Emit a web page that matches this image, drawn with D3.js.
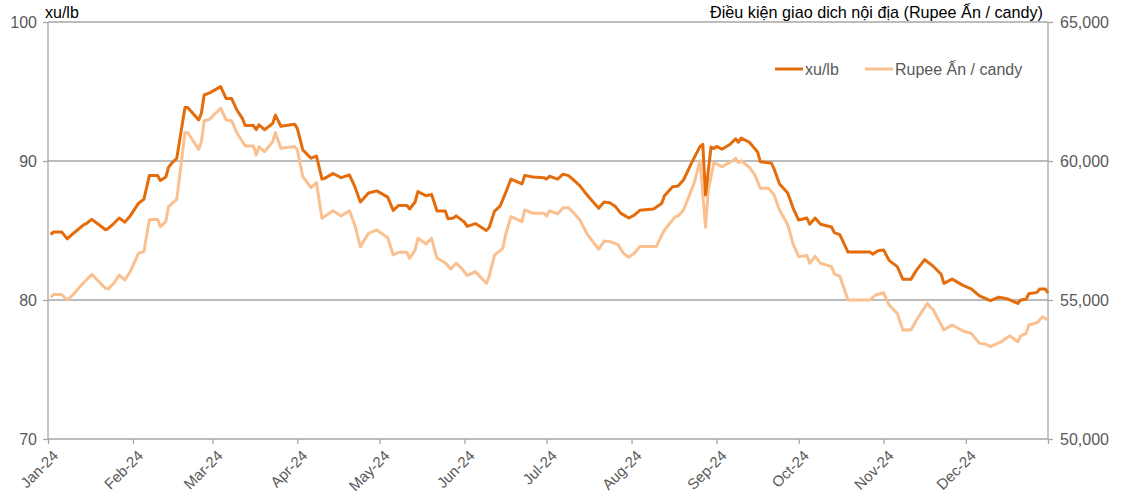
<!DOCTYPE html>
<html><head><meta charset="utf-8">
<script src="https://cdn.jsdelivr.net/npm/d3@7"></script>
<style>body{margin:0;background:#fff;} svg{display:block;font-family:"Liberation Sans",Arial,sans-serif;}</style>
</head><body>
<svg id="c" width="1122" height="501"></svg>
<script>
const leftTicks = [70, 80, 90, 100];
const rightTicks = [50000, 55000, 60000, 65000];
const monthTicks = ["2024-01-01","2024-02-01","2024-03-01","2024-04-01","2024-05-01","2024-06-01","2024-07-01","2024-08-01","2024-09-01","2024-10-01","2024-11-01","2024-12-01"];
const seriesNames = ["xu/lb", "Rupee Ấn / candy"];

const xuDates = ["01-02","01-03","01-06","01-08","01-10","01-14","01-15","01-17","01-19","01-22","01-23","01-25","01-27","01-29","01-31",
"02-03","02-05","02-07","02-10","02-11","02-13","02-14","02-15","02-17","02-20","02-21","02-25","02-26","02-27","02-29",
"03-04","03-06","03-08","03-10","03-12","03-13","03-16","03-17","03-18","03-20","03-23","03-24","03-26","03-31",
"04-01","04-03","04-06","04-08","04-10","04-11","04-14","04-17","04-20","04-22","04-24","04-27","04-30",
"05-04","05-06","05-08","05-11","05-12","05-14","05-15","05-18","05-20","05-22","05-25","05-26","05-28","05-29",
"06-01","06-02","06-05","06-09","06-10","06-12","06-14","06-16","06-18","06-22","06-23","06-26","06-30",
"07-01","07-02","07-05","07-07","07-09","07-11","07-13","07-16","07-20","07-22","07-24","07-26","07-28","07-31",
"08-02","08-04","08-09","08-12","08-13","08-16","08-18","08-20","08-23","08-26","08-27","08-28","08-30","08-31",
"09-01","09-03","09-06","09-08","09-09","09-10","09-13","09-16","09-17","09-21","09-22","09-24","09-27","09-29",
"10-01","10-04","10-05","10-07","10-09","10-13","10-14","10-16","10-19","10-27","10-28","10-30",
"11-01","11-03","11-06","11-08","11-11","11-13","11-16","11-18","11-19","11-22","11-23","11-26","11-30",
"12-03","12-06","12-10","12-13","12-16","12-20","12-21","12-23","12-24","12-27","12-28","12-30","12-31"];
const xuValues = [84.7,84.9,84.9,84.4,84.75,85.4,85.5,85.8,85.5,85.05,85.15,85.5,85.9,85.6,86.05,
86.95,87.25,88.95,88.95,88.6,88.85,89.55,89.8,90.2,93.85,93.85,92.95,93.45,94.75,94.9,
95.35,94.5,94.5,93.65,93.05,92.55,92.55,92.25,92.6,92.25,92.7,93.3,92.5,92.65,
92.35,90.8,90.2,90.35,88.7,88.75,89.1,88.8,89.0,88.15,87.05,87.7,87.85,
87.4,86.45,86.8,86.8,86.55,87.05,87.8,87.5,87.6,86.4,86.4,85.85,85.9,86.05,
85.6,85.3,85.5,85.0,85.2,86.4,86.75,87.7,88.7,88.35,88.95,88.85,88.8,
88.7,88.9,88.7,89.05,88.95,88.6,88.25,87.5,86.6,87.05,87.0,86.75,86.25,85.9,
86.1,86.45,86.55,86.95,87.5,88.15,88.2,88.65,89.9,91.05,91.2,87.55,91.0,90.9,
91.05,90.85,91.2,91.6,91.35,91.65,91.35,90.65,89.95,89.85,89.45,88.35,87.7,86.6,
85.75,85.9,85.45,85.9,85.45,85.25,84.85,84.7,83.45,83.45,83.3,83.55,
83.6,82.85,82.4,81.5,81.5,82.15,82.9,82.6,82.45,81.85,81.2,81.5,81.05,
80.8,80.3,79.95,80.2,80.1,79.75,80.0,80.05,80.45,80.55,80.8,80.8,80.5];

const rupeeDates = ["01-02","01-03","01-06","01-08","01-10","01-14","01-15","01-17","01-19","01-22","01-23","01-25","01-27","01-29","01-31",
"02-03","02-05","02-07","02-10","02-11","02-13","02-14","02-17","02-20","02-21","02-25","02-26","02-27","02-29",
"03-04","03-06","03-08","03-10","03-12","03-13","03-16","03-17","03-18","03-20","03-23","03-24","03-26","03-31",
"04-01","04-03","04-06","04-08","04-10","04-14","04-17","04-20","04-22","04-24","04-27","04-30",
"05-04","05-06","05-08","05-11","05-12","05-14","05-15","05-18","05-20","05-22","05-25","05-27","05-29","05-31",
"06-02","06-05","06-09","06-10","06-12","06-15","06-16","06-18","06-22","06-23","06-26","06-30",
"07-01","07-02","07-05","07-07","07-09","07-11","07-13","07-16","07-20","07-22","07-24","07-27","07-29","07-31",
"08-02","08-04","08-10","08-13","08-15","08-17","08-18","08-20","08-24","08-26","08-28","08-29","08-31",
"09-01","09-03","09-07","09-08","09-09","09-10","09-13","09-15","09-17","09-20","09-22","09-24","09-27","09-29",
"10-01","10-04","10-05","10-07","10-09","10-13","10-14","10-16","10-19","10-27","10-29",
"11-01","11-03","11-06","11-08","11-11","11-13","11-15","11-17","11-18","11-19","11-23","11-26","11-30",
"12-03","12-06","12-08","12-10","12-14","12-17","12-20","12-21","12-23","12-24","12-27","12-29","12-31"];
const rupeeValues = [55100,55200,55200,55000,55180,55620,55720,55920,55720,55420,55400,55600,55900,55720,56020,
56680,56740,57900,57900,57640,57820,58360,58620,61020,61020,60420,60690,61450,61500,
61900,61475,61450,61000,60690,60540,60540,60215,60515,60335,60690,61020,60460,60520,
60400,59435,59040,59220,57940,58210,58020,58210,57700,56920,57400,57520,
57240,56620,56715,56715,56500,56800,57220,57015,57220,56500,56340,56115,56320,56140,
55875,56020,55600,55840,56620,56860,57340,58000,57820,58240,58120,58120,
58020,58210,58095,58320,58320,58120,57900,57340,56825,57120,57100,57000,56680,56535,
56680,56920,56920,57520,57760,58000,58020,58240,59255,60010,57615,58960,59920,
59890,59800,60010,60100,59940,60010,59775,59500,59020,59020,58780,58240,57710,57000,
56560,56600,56320,56580,56320,56200,55935,55860,55000,55000,55180,
55260,54820,54520,53920,53920,54280,54580,54880,54740,54665,53920,54100,53885,
53800,53440,53420,53320,53500,53715,53500,53705,53800,54100,54185,54400,54280];

const colors = ["#E46C0A", "#FAC090"];
const gridColor = "#A6A6A6";
const textColor = "#595959";

const parse = d3.timeParse("%Y-%m-%d");
const xuData = xuDates.map((d,i)=>({date: parse("2024-"+d), value: xuValues[i]}));
const rupeeData = rupeeDates.map((d,i)=>({date: parse("2024-"+d), value: rupeeValues[i]}));

const svg = d3.select("#c");
const L = 48, R = 1048, T = 22, B = 439;
const x = d3.scaleTime().domain([parse("2024-01-01"), parse("2024-12-31")]).range([L, R]);
const yL = d3.scaleLinear().domain([70, 100]).range([B, T]);
const yR = d3.scaleLinear().domain([50000, 65000]).range([B, T]);

// gridlines
svg.append("g").selectAll("line").data(leftTicks.filter(t=>t>70)).join("line")
  .attr("x1", L).attr("x2", R).attr("y1", d=>yL(d)).attr("y2", d=>yL(d))
  .attr("stroke", gridColor).attr("stroke-width", 1.3);

// left axis
const gl = svg.append("g").attr("transform", `translate(${L},0)`)
  .call(d3.axisLeft(yL).tickValues(leftTicks).tickSize(5).tickPadding(6).tickFormat(d3.format("d")));
// right axis
const gr = svg.append("g").attr("transform", `translate(${R},0)`)
  .call(d3.axisRight(yR).tickValues(rightTicks).tickSize(5).tickPadding(7).tickFormat(d3.format(",")));
// bottom axis
const gb = svg.append("g").attr("transform", `translate(0,${B})`)
  .call(d3.axisBottom(x).tickValues(monthTicks.map(parse).concat([parse("2024-12-31")])).tickSize(5).tickFormat((d,i)=> i < monthTicks.length ? d3.timeFormat("%b-%y")(d) : ""));
[gl, gr, gb].forEach(g=>{
  g.select(".domain").attr("stroke", gridColor).attr("stroke-width", 1.3);
  g.selectAll(".tick line").attr("stroke", gridColor).attr("stroke-width", 1.3);
  g.selectAll("text").attr("fill", textColor).style("font-size", "16px").style("font-family", '"Liberation Sans",Arial,sans-serif');
});
gb.select(".domain").attr("d", `M${L},0H${R}`);
gl.select(".domain").attr("d", `M0,${B}V${T}`);
gr.select(".domain").attr("d", `M0,${B}V${T}`);
gb.selectAll(".tick text")
  .style("font-size", "15px")
  .attr("text-anchor", "end")
  .attr("dy", "0")
  .attr("transform", "translate(5,12) rotate(-45)");

// lines
const lineL = d3.line().x(d=>x(d.date)).y(d=>yL(d.value));
const lineR = d3.line().x(d=>x(d.date)).y(d=>yR(d.value));
svg.append("path").datum(rupeeData).attr("d", lineR).attr("fill","none")
  .attr("stroke", colors[1]).attr("stroke-width", 3).attr("stroke-linejoin","round");
svg.append("path").datum(xuData).attr("d", lineL).attr("fill","none")
  .attr("stroke", colors[0]).attr("stroke-width", 3).attr("stroke-linejoin","round");

// axis titles
svg.append("text").attr("x", 45).attr("y", 18).text("xu/lb")
  .attr("fill", "#000").style("font-size", "16px");
svg.append("text").attr("x", 1043).attr("y", 18).attr("text-anchor","end")
  .text("Điều kiện giao dich nội địa (Rupee Ấn / candy)")
  .attr("fill", "#000").style("font-size", "16.2px");

// legend
const leg = svg.append("g");
const legX = [775, 865];
seriesNames.forEach((n,i)=>{
  leg.append("line").attr("x1", legX[i]).attr("x2", legX[i]+28).attr("y1", 69).attr("y2", 69)
    .attr("stroke", colors[i]).attr("stroke-width", 3);
  leg.append("text").attr("x", legX[i]+30).attr("y", 74.5).text(n)
    .attr("fill", textColor).style("font-size", "16px");
});
</script>
</body></html>
